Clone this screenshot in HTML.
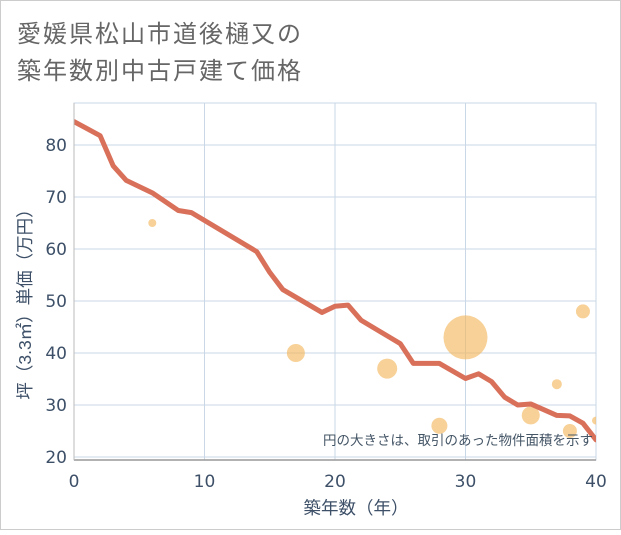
<!DOCTYPE html>
<html><head><meta charset="utf-8"><style>
html,body{margin:0;padding:0;background:#fff}
#wrap{position:relative;width:621px;height:530px;font-family:"Liberation Sans","Noto Sans CJK JP",sans-serif}
</style></head><body>
<div id="wrap">
<svg id="chart" width="621" height="530" xmlns="http://www.w3.org/2000/svg">
<rect x="0.5" y="0.5" width="620" height="529" fill="#fff" stroke="#ccc"/>
<text x="17" y="42" font-size="24" letter-spacing="2" fill="#666" font-family="Liberation Sans, Noto Sans CJK JP, sans-serif">愛媛県松山市道後樋又の</text>
<text x="17" y="79" font-size="24" letter-spacing="2" fill="#666" font-family="Liberation Sans, Noto Sans CJK JP, sans-serif">築年数別中古戸建て価格</text>
<g id="grid"></g>
<g id="marks"></g>
<g id="axes"></g>
<text x="593" y="445" font-size="13.5" fill="#445566" text-anchor="end" font-family="Liberation Sans, Noto Sans CJK JP, sans-serif">円の大きさは、取引のあった物件面積を示す</text>
<text x="356" y="514" font-size="17.5" fill="#3d5068" text-anchor="middle" font-family="Liberation Sans, Noto Sans CJK JP, sans-serif">築年数（年）</text>
<text transform="translate(31,300) rotate(-90)" font-size="17.5" fill="#3d5068" text-anchor="middle" font-family="Liberation Sans, Noto Sans CJK JP, sans-serif">坪（3.3㎡）単価（万円）</text>
</svg>
</div>
<script>
const xTicks=[0,10,20,30,40];
const yTicks=[20,30,40,50,60,70,80];
const lineYears=[0,2,3,4,6,8,9,14,15,16,19,20,21,22,25,26,28,30,31,32,33,34,35,37,38,39,40];
const lineValues=[84.5,81.8,76,73.2,70.8,67.4,67,59.5,55.5,52.2,47.8,49,49.2,46.3,41.8,38,38,35.1,36,34.5,31.5,30,30.2,28,27.9,26.5,23.3];
const bubbleYears=[6,17,24,28,30,35,37,38,39,40];
const bubbleValues=[65,40,37,26,43,28,34,25,48,27];
const bubbleSizes=[4,9,10,8,22,9,5,7,7,4];
const X0=74,X1=596,Y0=103,Y1=460;
const xs=v=>X0+(v-0)/40*(X1-X0);
const ys=v=>145+(80-v)*5.2;
const NS="http://www.w3.org/2000/svg";
function mk(t,a,p){const e=document.createElementNS(NS,t);for(const k in a)e.setAttribute(k,a[k]);p.appendChild(e);return e;}
const grid=document.getElementById('grid'),marks=document.getElementById('marks'),axes=document.getElementById('axes');
xTicks.forEach(t=>{
 const l=mk('line',{x1:xs(t),x2:xs(t),y1:Y0,y2:Y1,stroke:'#c9d7e6','stroke-width':1},grid);
 
 
 const tx=mk('text',{x:xs(t),y:487,'font-size':17,fill:'#3d5068','text-anchor':'middle','font-family':'DejaVu Sans, sans-serif'},axes);
 tx.textContent=t;
 
 
});
yTicks.forEach(t=>{
 const l=mk('line',{x1:X0,x2:X1,y1:ys(t),y2:ys(t),stroke:'#c9d7e6','stroke-width':1},grid);
 
 
 const tx=mk('text',{x:67,y:ys(t)+6,'font-size':17,fill:'#3d5068','text-anchor':'end','font-family':'DejaVu Sans, sans-serif'},axes);
 tx.textContent=t;
 
 
});
const frame=mk('rect',{x:X0,y:Y0,width:X1-X0,height:Y1-Y0,fill:'none',stroke:'#c9d7e6'},grid);


const xa=mk('line',{x1:X0,x2:X1,y1:Y1,y2:Y1,stroke:'#999','stroke-width':1.5},axes);


const ya=mk('line',{x1:X0,x2:X0,y1:Y0,y2:Y1,stroke:'#bbb','stroke-width':1},axes);


const cp=mk('clipPath',{id:'clip'},marks);mk('rect',{x:X0,y:Y0,width:X1-X0,height:Y1-Y0},cp);
const g=mk('g',{'clip-path':'url(#clip)'},marks);
bubbleYears.forEach((yr,i)=>{
 const c=mk('circle',{cx:xs(yr),cy:ys(bubbleValues[i]),r:bubbleSizes[i],fill:'#f3b860','fill-opacity':0.65},g);
 
 
});
const pts=lineYears.map((yr,i)=>xs(yr)+','+ys(lineValues[i])).join(' ');
const pl=mk('polyline',{points:pts,fill:'none',stroke:'#d9705a','stroke-width':5,'stroke-linejoin':'round','stroke-linecap':'round'},g);


</script>
</body></html>
